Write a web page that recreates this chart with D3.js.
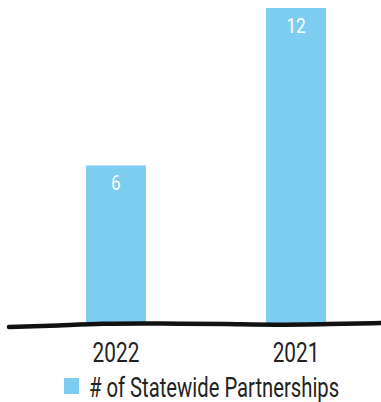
<!DOCTYPE html>
<html>
<head>
<meta charset="utf-8">
<script src="https://cdn.jsdelivr.net/npm/d3@7"></script>
<style>
  body { margin: 0; background: #fff; }
  text { font-family: "Roboto", "Liberation Sans", sans-serif; }
</style>
</head>
<body>
<svg id="chart" width="381" height="402"></svg>
<script>
const years = ['2022', '2021'];
const partnerships = [6, 12];
const seriesName = '# of Statewide Partnerships';

const svg = d3.select('#chart');
const baseY = 323;

const x = d3.scaleBand()
  .domain(years)
  .range([26, 386])
  .paddingInner(0.667)
  .paddingOuter(0.333);

const y = d3.scaleLinear()
  .domain([0, 12])
  .range([baseY, 8]);

const blue = '#7dcdf1';

// bars
svg.append('g')
  .selectAll('rect')
  .data(years)
  .enter()
  .append('rect')
  .attr('x', d => x(d))
  .attr('width', x.bandwidth())
  .attr('y', (d, i) => y(partnerships[i]))
  .attr('height', (d, i) => baseY - y(partnerships[i]))
  .attr('fill', blue);

// value labels (narrowed to mimic the condensed face)
svg.append('g')
  .selectAll('text')
  .data(years)
  .enter()
  .append('text')
  .attr('transform', (d, i) => `translate(${x(d) + x.bandwidth() / 2}, ${y(partnerships[i]) + 24.5}) scale(0.82, 1)`)
  .attr('text-anchor', 'middle')
  .attr('fill', '#fff')
  .attr('font-size', 21)
  .text((d, i) => partnerships[i]);

// hand-drawn baseline
const wobble = [[9, 327], [60, 325.5], [100, 323.5], [160, 323.5], [230, 324], [275, 325], [330, 324], [381, 323]];
svg.append('path')
  .attr('d', d3.line().curve(d3.curveBasis)(wobble))
  .attr('fill', 'none')
  .attr('stroke', '#111')
  .attr('stroke-width', 4.5)
  .attr('stroke-linecap', 'round');

// x axis labels
const xAxis = d3.axisBottom(x).tickSize(0).tickPadding(0);
const axisG = svg.append('g')
  .attr('transform', `translate(0, ${baseY + 20})`)
  .call(xAxis);
axisG.select('.domain').remove();
axisG.selectAll('text')
  .attr('font-size', 27)
  .attr('fill', '#222')
  .attr('dy', '0.71em')
  .attr('transform', 'scale(0.77, 1)');

// legend
const legend = svg.append('g').attr('transform', 'translate(64, 378)');
legend.append('rect')
  .attr('width', 15)
  .attr('height', 16)
  .attr('fill', blue);
legend.append('text')
  .attr('transform', 'translate(25, 18.6) scale(0.75, 1)')
  .attr('font-size', 27)
  .attr('fill', '#222')
  .text(seriesName);
</script>
</body>
</html>
